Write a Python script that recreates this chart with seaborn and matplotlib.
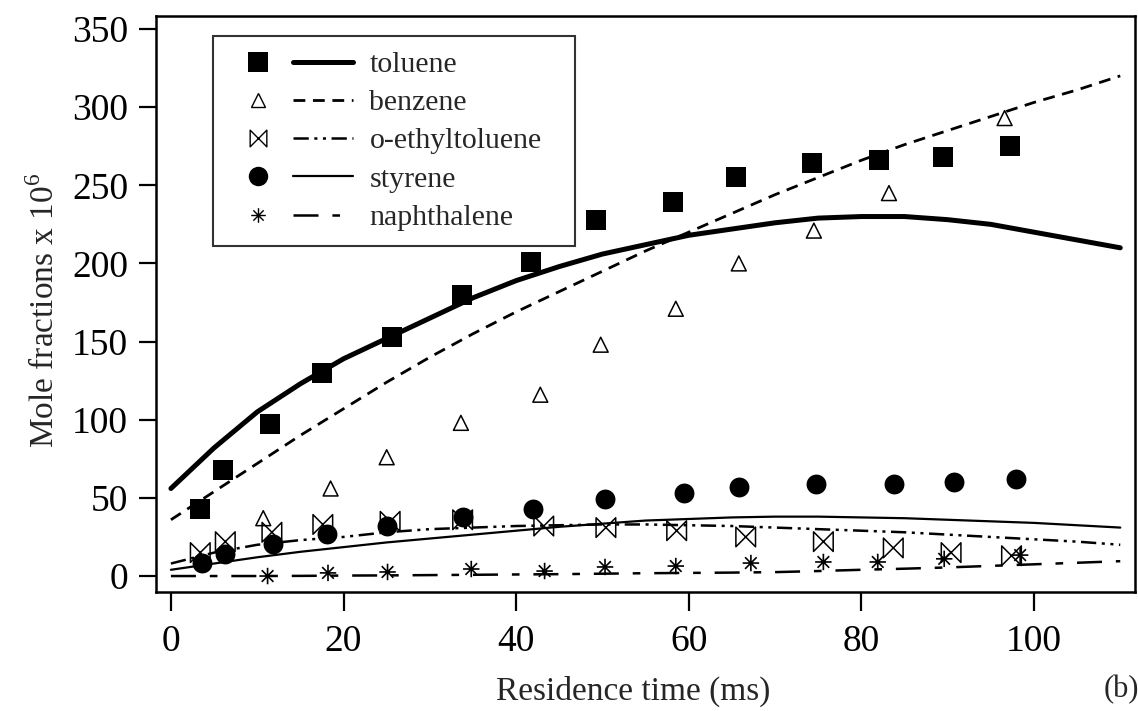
import numpy as np
import pandas as pd
import matplotlib
matplotlib.use("Agg")
import matplotlib.pyplot as plt
import seaborn as sns
from matplotlib.path import Path
from matplotlib.lines import Line2D
from matplotlib.legend_handler import HandlerTuple

# measured points (residence time in ms, mole fraction x 1e6)
tol_t = [3.4, 6.0, 11.5, 17.5, 25.6, 33.7, 41.7, 49.2, 58.2, 65.5, 74.3, 82.1, 89.5, 97.2]
tol_y = [43, 68, 97, 130, 153, 180, 201, 228, 239, 255, 264, 266, 268, 275]

benz_t = [10.7, 18.5, 25.0, 33.6, 42.8, 49.8, 58.5, 65.8, 74.5, 83.2, 96.6]
benz_y = [37, 56, 76, 98, 116, 148, 171, 200, 221, 245, 293]

oet_t = [3.4, 6.3, 11.7, 17.6, 25.4, 33.8, 43.2, 50.4, 58.6, 66.6, 75.6, 83.7, 90.4, 97.4]
oet_y = [15, 22, 28, 33, 35, 36, 32, 31, 29, 25, 22, 18, 15, 13]

sty_t = [3.6, 6.3, 11.8, 18.1, 25.0, 33.8, 42.0, 50.3, 59.4, 65.8, 74.7, 83.8, 90.7, 97.9]
sty_y = [8.5, 14, 20.5, 27, 32, 38, 43, 49, 53, 57, 59, 59, 60, 62]

naph_t = [11.2, 18.2, 25.1, 34.8, 43.3, 50.3, 58.5, 67.2, 75.6, 81.9, 89.6, 98.4]
naph_y = [0, 2, 2.6, 4.5, 3.2, 5.8, 6.4, 8.3, 9, 9, 11, 13.4]

# model curves
model_t = [0, 5, 10, 15, 20, 25, 30, 35, 40, 45, 50, 55, 60, 65, 70, 75, 80, 85, 90, 95, 100, 105, 110]
tol_model = [56, 82, 105, 123, 139, 152, 165, 178, 189, 198, 206, 212, 218, 222, 226, 229, 230, 230, 228, 225, 220, 215, 210]
benz_model = [36, 54, 72, 90, 107, 124, 140, 155, 169, 182, 195, 208, 220, 232, 244, 255, 266, 276, 285, 294, 303, 311, 320]
oet_model = [8, 15, 20, 23, 25, 28, 30, 31, 32, 32.5, 33, 33, 32.5, 32, 31, 30, 29, 28, 26.5, 25, 23.5, 22, 20]
sty_model = [4, 8, 12, 15.5, 18.5, 21.5, 24, 26.5, 29, 31.5, 33.5, 35.5, 36.5, 37.5, 38, 38, 37.5, 37, 36, 35, 34, 32.5, 31]
naph_model = [0, 0, 0, 0.1, 0.3, 0.4, 0.6, 0.8, 1, 1.2, 1.5, 1.8, 2, 2.2, 2.5, 3.2, 4, 4.7, 5.5, 6.5, 7.5, 8.5, 9.5]

labels = ["toluene", "benzene", "o-ethyltoluene", "styrene", "naphthalene"]

sns.set_theme(style="ticks")
plt.rcParams["font.family"] = ["Liberation Serif", "DejaVu Serif"]
plt.rcParams["mathtext.fontset"] = "custom"
plt.rcParams["mathtext.rm"] = "Liberation Serif"
plt.rcParams["lines.scale_dashes"] = False

bowtie = Path([(-1, 1), (-1, -1), (1, 1), (1, -1), (-1, 1)],
              [Path.MOVETO, Path.LINETO, Path.LINETO, Path.LINETO, Path.CLOSEPOLY])
r = 0.7071
star = Path([(0, -1), (0, 1), (-1, 0), (1, 0), (-r, -r), (r, r), (-r, r), (r, -r)],
            [Path.MOVETO, Path.LINETO] * 4)

styles = {
    "toluene": dict(ls="-", lw=3.6),
    "benzene": dict(ls=(0, (8.5, 5.5)), lw=2.0),
    "o-ethyltoluene": dict(ls=(0, (11, 4, 2.2, 4, 2.2, 4)), lw=1.8),
    "styrene": dict(ls="-", lw=1.6),
    "naphthalene": dict(ls=(0, (18, 10, 5.5, 10)), lw=1.8),
}

fig = plt.figure(figsize=(11.38, 7.11), dpi=100)
ax = fig.add_axes([0.137, 0.1674, 0.8603, 0.8101])

curves = [tol_model, benz_model, oet_model, sty_model, naph_model]
for name, yv in zip(labels, curves):
    sns.lineplot(x=model_t, y=yv, color="black", linestyle=styles[name]["ls"],
                 lw=styles[name]["lw"], errorbar=None, ax=ax)

sns.scatterplot(x=oet_t, y=oet_y, marker=bowtie, s=200, color="black",
                facecolor="none", edgecolor="black", linewidth=1.1, ax=ax, zorder=3)
sns.scatterplot(x=benz_t, y=benz_y, marker="^", s=115, color="black",
                facecolor="none", edgecolor="black", linewidth=1.1, ax=ax, zorder=3)
sns.scatterplot(x=naph_t, y=naph_y, marker=star, s=140, color="black",
                facecolor="none", edgecolor="black", linewidth=1.2, ax=ax, zorder=3)
sns.scatterplot(x=sty_t, y=sty_y, marker="o", s=205, color="black",
                edgecolor="black", linewidth=0, ax=ax, zorder=4)
sns.scatterplot(x=tol_t, y=tol_y, marker="s", s=220, color="black",
                edgecolor="black", linewidth=0, ax=ax, zorder=4)

ax.set_xlim(-1.74, 111.7)
ax.set_ylim(-10.2, 358.3)
ax.set_xticks(range(0, 101, 20))
ax.set_yticks(range(0, 351, 50))
ax.tick_params(axis="both", direction="out", labelsize=27, colors="black", width=1.6)
ax.tick_params(axis="x", length=13.5, pad=10)
ax.tick_params(axis="y", length=12, pad=8)
for sp in ax.spines.values():
    sp.set_visible(True)
    sp.set_linewidth(1.8)
    sp.set_color("black")

ax.set_xlabel("Residence time (ms)", fontsize=24)
ax.set_ylabel(r"Mole fractions x 10$^{\mathrm{6}}$", fontsize=24)
ax.xaxis.set_label_coords(0.488, -0.145)
ax.yaxis.set_label_coords(-0.097, 0.49)

markers = [
    dict(marker="s", markersize=15, mfc="black", mec="black", mew=0),
    dict(marker="^", markersize=9.5, mfc="none", mec="black", mew=1.0),
    dict(marker=bowtie, markersize=12, mfc="none", mec="black", mew=1.0),
    dict(marker="o", markersize=14, mfc="black", mec="black", mew=0),
    dict(marker=star, markersize=10.5, mfc="none", mec="black", mew=1.0),
]
handles = []
for name, mk in zip(labels, markers):
    h_mark = Line2D([], [], ls="none", **mk)
    h_line = Line2D([], [], color="black", linestyle=styles[name]["ls"], lw=styles[name]["lw"])
    handles.append((h_mark, h_line))

leg = ax.legend(handles, labels, handler_map={tuple: HandlerTuple(ndivide=None, pad=0.17)},
                loc="upper left", bbox_to_anchor=(0.058, 0.965, 0.37, 0.0), mode="expand",
                fontsize=21.5, handlelength=4.2, handletextpad=0.55, labelspacing=0.38,
                borderpad=0.5, borderaxespad=0, frameon=True, fancybox=False)
leg.get_frame().set_edgecolor("black")
leg.get_frame().set_linewidth(1.5)

fig.text(0.985, 0.03, "(b)", fontsize=22, ha="center", va="center")

fig.savefig("out.png", dpi=100)
